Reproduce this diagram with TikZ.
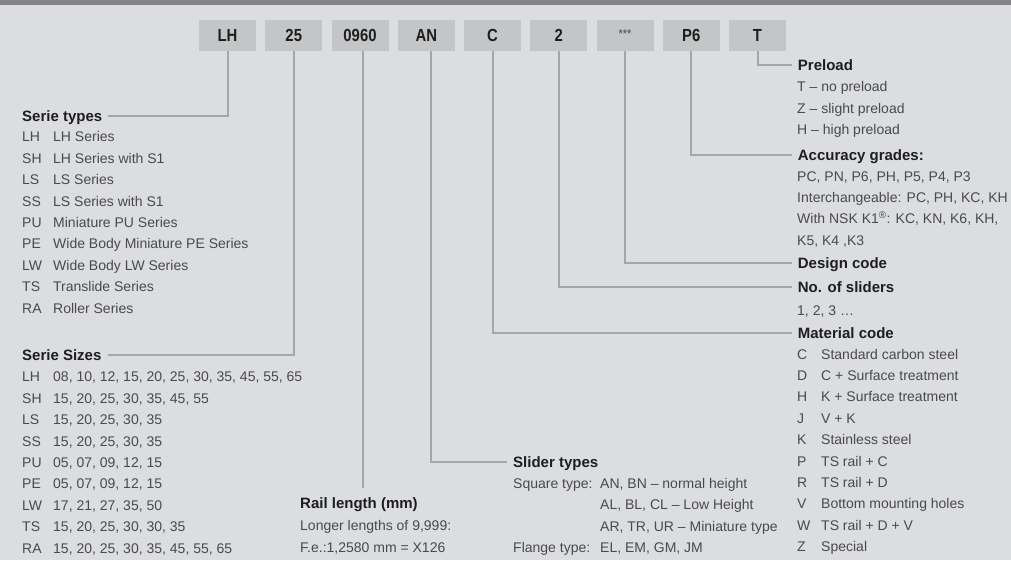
\documentclass[tikz,border=0pt]{standalone}
\usepackage{fontspec}
\setmainfont{Liberation Sans}
\newfontfamily\boxfont[FakeStretch=0.85]{Liberation Sans}
\definecolor{bg}{HTML}{DCDDE0}
\definecolor{topbar}{HTML}{848488}
\definecolor{boxgray}{HTML}{C4C5C7}
\definecolor{linegray}{HTML}{A5A6A8}
\definecolor{headtext}{HTML}{1E1E1E}
\definecolor{bodytext}{HTML}{4A4A4A}
\tikzset{
  codebox/.style={fill=boxgray, minimum width=57pt, minimum height=31pt, inner sep=0pt,
    text height=12.7pt, text depth=0pt, font=\boxfont\bfseries\fontsize{17.5}{20}\selectfont, text=headtext},
  head/.style={font=\bfseries\fontsize{15}{18}\selectfont, text=headtext, text height=10.7pt,
    text depth=0pt, inner ysep=0pt, inner xsep=6pt},
  body/.style={font=\fontsize{14}{21.4}\selectfont, text=bodytext, inner sep=0pt, anchor=north west},
  conn/.style={draw=linegray, line width=2pt},
}
\begin{document}
\begin{tikzpicture}[x=1pt,y=-1pt]
\fill[bg] (0,0) rectangle (1011,560);
\useasboundingbox (0,0) rectangle (1011,560);
\fill[topbar] (0,0) rectangle (1011,4.7);

% code boxes
\node[codebox] (bLH)   at (227.5,35.5) {LH};
\node[codebox] (b25)   at (293.75,35.5) {25};
\node[codebox] (b0960) at (360,35.5) {0960};
\node[codebox] (bAN)   at (426.25,35.5) {AN};
\node[codebox] (bC)    at (492.5,35.5) {C};
\node[codebox] (b2)    at (558.75,35.5) {2};
\node[codebox] (bstar) at (625,35.5) {\raisebox{3pt}{\fontsize{13}{15}\selectfont\mdseries\color{bodytext}***}};
\node[codebox] (bP6)   at (691.25,35.5) {P6};
\node[codebox] (bT)    at (757.5,35.5) {T};

% left column
\node[head, anchor=west] (types) at (16,116) {Serie types};
\node[body] (typeslist) at (22,126.7) {\begin{tabular}{@{}l@{}}
\makebox[31pt][l]{LH}LH Series\\
\makebox[31pt][l]{SH}LH Series with S1\\
\makebox[31pt][l]{LS}LS Series\\
\makebox[31pt][l]{SS}LS Series with S1\\
\makebox[31pt][l]{PU}Miniature PU Series\\
\makebox[31pt][l]{PE}Wide Body Miniature PE Series\\
\makebox[31pt][l]{LW}Wide Body LW Series\\
\makebox[31pt][l]{TS}Translide Series\\
\makebox[31pt][l]{RA}Roller Series
\end{tabular}};

\node[head, anchor=west] (sizes) at (16,355) {Serie Sizes};
\node[body] (sizeslist) at (22,366.7) {\begin{tabular}{@{}l@{}}
\makebox[31pt][l]{LH}08, 10, 12, 15, 20, 25, 30, 35, 45, 55, 65\\
\makebox[31pt][l]{SH}15, 20, 25, 30, 35, 45, 55\\
\makebox[31pt][l]{LS}15, 20, 25, 30, 35\\
\makebox[31pt][l]{SS}15, 20, 25, 30, 35\\
\makebox[31pt][l]{PU}05, 07, 09, 12, 15\\
\makebox[31pt][l]{PE}05, 07, 09, 12, 15\\
\makebox[31pt][l]{LW}17, 21, 27, 35, 50\\
\makebox[31pt][l]{TS}15, 20, 25, 30, 30, 35\\
\makebox[31pt][l]{RA}15, 20, 25, 30, 35, 45, 55, 65
\end{tabular}};

% rail length
\node[head, anchor=west] (rail) at (294,503) {Rail length (mm)};
\node[body] (raillist) at (300,515.7) {\begin{tabular}{@{}l@{}}
Longer lengths of 9,999:\\
F.e.:1,2580 mm = X126
\end{tabular}};
\coordinate (railend) at (362.5,488);

% slider types
\node[head, anchor=west] (slider) at (507,461.7) {Slider types};
\node[body] (sliderlist) at (513,473.3) {\begin{tabular}{@{}l@{}}
\makebox[87pt][l]{Square type:}AN, BN – normal height\\
\makebox[87pt][l]{}AL, BL, CL – Low Height\\
\makebox[87pt][l]{}AR, TR, UR – Miniature type\\
\makebox[87pt][l]{Flange type:}EL, EM, GM, JM
\end{tabular}};

% right column
\node[head, anchor=west] (preload) at (791.7,65) {Preload};
\node[body] (preloadlist) at (797,76.7) {\begin{tabular}{@{}l@{}}
T – no preload\\
Z – slight preload\\
H – high preload
\end{tabular}};

\node[head, anchor=west] (accuracy) at (791.7,155) {Accuracy grades:};
\node[body] (accuracylist) at (797,166) {\begin{tabular}{@{}l@{}}
PC, PN, P6, PH, P5, P4, P3\\
Interchangeable: PC, PH, KC, KH\\
With NSK K1\textsuperscript{®}: KC, KN, K6, KH,\\
K5, K4 ,K3
\end{tabular}};

\node[head, anchor=west] (design) at (791.7,263) {Design code};

\node[head, anchor=west] (sliders) at (791.7,287) {No. of sliders};
\node[body] (sliderslist) at (797,300) {\begin{tabular}{@{}l@{}}
1, 2, 3 …
\end{tabular}};

\node[head, anchor=west] (material) at (791.7,333) {Material code};
\node[body] (materiallist) at (797,344) {\begin{tabular}{@{}l@{}}
\makebox[24pt][l]{C}Standard carbon steel\\
\makebox[24pt][l]{D}C + Surface treatment\\
\makebox[24pt][l]{H}K + Surface treatment\\
\makebox[24pt][l]{J}V + K\\
\makebox[24pt][l]{K}Stainless steel\\
\makebox[24pt][l]{P}TS rail + C\\
\makebox[24pt][l]{R}TS rail + D\\
\makebox[24pt][l]{V}Bottom mounting holes\\
\makebox[24pt][l]{W}TS rail + D + V\\
\makebox[24pt][l]{Z}Special
\end{tabular}};

% connectors
\draw[conn] (bLH.south) |- (types.east);
\draw[conn] (b25.south) |- (sizes.east);
\draw[conn] (b0960.south -| railend) -- (railend);
\draw[conn] ([xshift=5pt]bAN.south) |- (slider.west);
\draw[conn] (bC.south) |- (material.west);
\draw[conn] (b2.south) |- (sliders.west);
\draw[conn] (bstar.south) |- (design.west);
\draw[conn] (bP6.south) |- (accuracy.west);
\draw[conn] (bT.south) |- (preload.west);
\end{tikzpicture}
\end{document}
